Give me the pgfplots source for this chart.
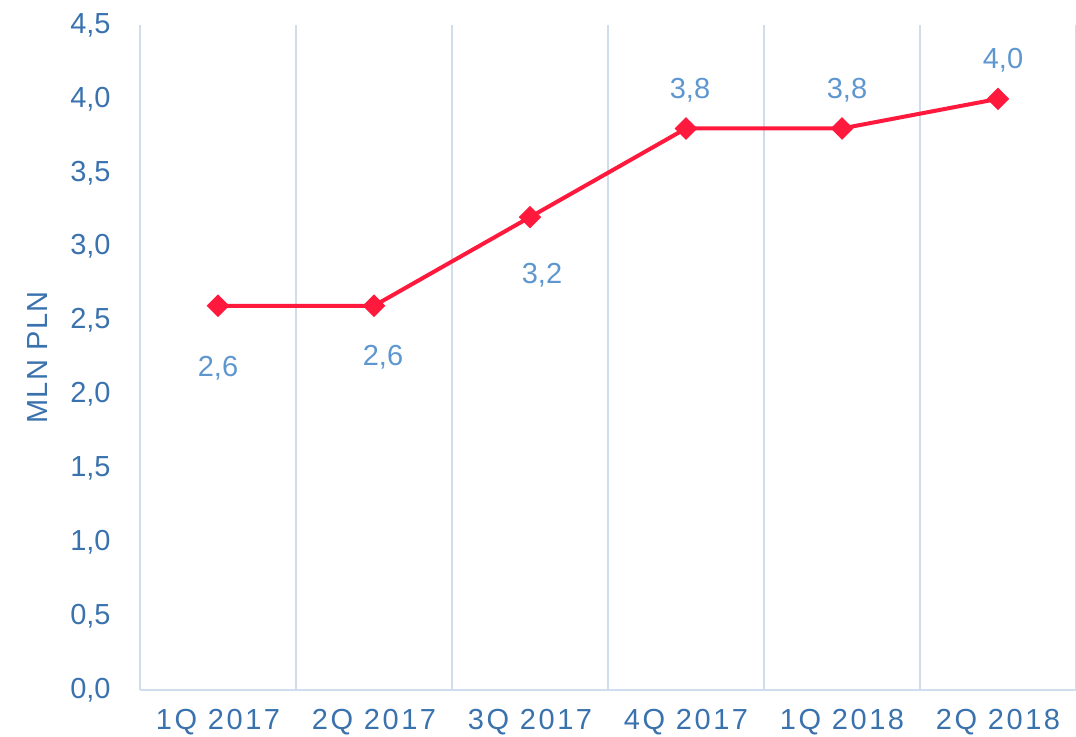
\documentclass[border=0pt]{standalone}
\usepackage{fontspec}
\setmainfont{Liberation Sans}
\usepackage{pgfplots}
\usepackage{pgfplotstable}
\pgfplotsset{compat=1.18}
\definecolor{tickblue}{HTML}{3A72AE}
\definecolor{lblblue}{HTML}{5E97CF}
\definecolor{gridblue}{HTML}{CFDDEC}
\definecolor{linered}{HTML}{FF1A3D}
\newfontfamily\spaced[LetterSpace=9]{Liberation Sans}
\newfontfamily\spacedl[LetterSpace=5]{Liberation Sans}

% x, value, label shift (pt)
\pgfplotstableread{
x   y    dx   dy
0.5 2.6  0    -31
1.5 2.6  4.5  -25.5
2.5 3.2  6    -29
3.5 3.8  2    19
4.5 3.8  2.5  19
5.5 4.0  2.5  19.5
}\sales

\begin{document}
\begin{tikzpicture}
\begin{axis}[
  scale only axis,width=468pt,height=332.5pt,
  xmin=0,xmax=6,ymin=0,ymax=4.5,
  axis x line=bottom,axis y line=left,
  axis line style={gridblue,line width=1pt,-},
  xtick={0.5,1.5,...,5.5},
  xticklabels={1Q 2017,2Q 2017,3Q 2017,4Q 2017,1Q 2018,2Q 2018},
  minor xtick={1,2,3,4,5,6},
  xminorgrids,
  minor grid style={gridblue,line width=0.8pt},
  major tick length=0pt,minor tick length=0pt,
  ytick={0,0.5,...,4.5},
  yticklabel style={/pgf/number format/fixed,/pgf/number format/fixed zerofill,
    /pgf/number format/precision=1,/pgf/number format/use comma,
    /pgf/number format/assume math mode=true,anchor=east,inner sep=0pt,xshift=-14.5pt},
  tick label style={font=\fontsize{14.5}{16}\selectfont,text=tickblue},
  x tick label style={font=\fontsize{14.5}{16}\selectfont\spaced,text=tickblue,
    anchor=center,inner sep=0pt,yshift=-16pt},
  ylabel={MLN PLN},
  ylabel style={font=\fontsize{14.5}{16}\selectfont\spacedl,text=tickblue,
    anchor=center,at={(axis description cs:-0.11,0.5)}},
  clip=false,
]
\addplot[linered,line width=2pt,mark=square*,mark size=3pt,
  mark options={solid,fill=linered,rotate=45},
  visualization depends on={\thisrow{dx} \as \dx},
  visualization depends on={\thisrow{dy} \as \dy},
  point meta=explicit,
  nodes near coords={\pgfmathprintnumber[fixed,fixed zerofill,precision=1,use comma,assume math mode=true]{\pgfplotspointmeta}},
  every node near coord/.append style={anchor=center,xshift=\dx pt,yshift=\dy pt,
    font=\fontsize{14.5}{16}\selectfont,text=lblblue,inner sep=0pt,rotate=0},
] table[x=x,y=y,meta=y] {\sales};
\end{axis}
\pgfresetboundingbox
\path[use as bounding box] (-70pt,-23.5pt) rectangle (468pt,345pt);
\end{tikzpicture}
\end{document}
